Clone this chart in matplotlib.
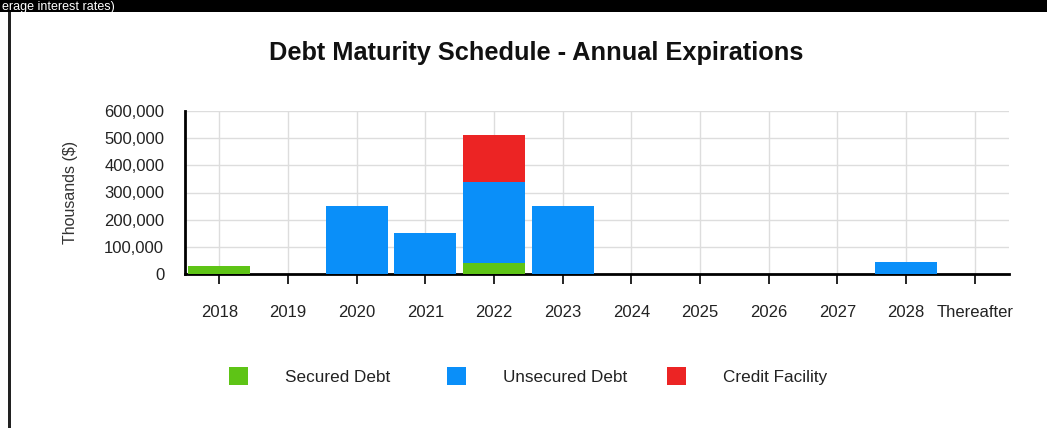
import numpy as np
import matplotlib.pyplot as plt
from matplotlib.patches import Rectangle

plt.rcParams['font.family'] = ['Liberation Sans', 'DejaVu Sans']

# Maturity amounts, thousands of dollars
categories = ['2018', '2019', '2020', '2021', '2022', '2023', '2024', '2025',
              '2026', '2027', '2028', 'Thereafter']
secured = [30000, 0, 0, 0, 40000, 0, 0, 0, 0, 0, 0, 0]
unsecured = [0, 0, 250000, 150000, 300000, 250000, 0, 0, 0, 0, 45000, 0]
credit = [0, 0, 0, 0, 170000, 0, 0, 0, 0, 0, 0, 0]
yticks = [0, 100000, 200000, 300000, 400000, 500000, 600000]

green = '#5ec416'
blue = '#0a8ff9'
red = '#ec2424'

fig = plt.figure(figsize=(10.47, 4.28), dpi=100)
fig.patch.set_facecolor('white')

# black strip on top with cut-off caption, and the dark left frame line
fig.patches.append(Rectangle((0, 1 - 12 / 428), 1, 12 / 428, transform=fig.transFigure,
                             facecolor='black', edgecolor='none', zorder=0))
fig.patches.append(Rectangle((8 / 1047, 0), 2.5 / 1047, 1 - 12 / 428, transform=fig.transFigure,
                             facecolor='#222222', edgecolor='none', zorder=0))
fig.text(2 / 1047, 1 - 1 / 428, 'erage interest rates)', color='white', fontsize=9,
         va='top', ha='left')

ax = fig.add_axes([185 / 1047, 1 - 274 / 428, 824 / 1047, 163 / 428])
x = np.arange(len(categories))
w = 0.9
sec = np.array(secured)
uns = np.array(unsecured)
cre = np.array(credit)
b1 = ax.bar(x, sec, w, color=green, zorder=3, label='Secured Debt')
b2 = ax.bar(x, uns, w, bottom=sec, color=blue, zorder=3, label='Unsecured Debt')
b3 = ax.bar(x, cre, w, bottom=sec + uns, color=red, zorder=3, label='Credit Facility')

ax.set_xlim(-0.5, len(categories) - 0.5)
ax.set_ylim(0, 600000)
ax.set_xticks(x)
ax.set_xticklabels(categories, fontsize=12, color='#222222')
ax.set_yticks(yticks)
ax.set_yticklabels([f'{v:,}' for v in yticks], fontsize=12, color='#222222')
ax.tick_params(axis='x', length=7, width=1.2, pad=15, direction='out')
ax.tick_params(axis='y', length=0, pad=15)
ax.grid(True, color='#dddddd', linewidth=1, zorder=0)
for s in ['top', 'right']:
    ax.spines[s].set_visible(False)
ax.spines['left'].set_linewidth(2)
ax.spines['bottom'].set_linewidth(2)
ax.set_ylabel('Thousands ($)', fontsize=11.5, color='#333333', labelpad=19)

fig.text(536 / 1047, 1 - 53 / 428, 'Debt Maturity Schedule - Annual Expirations',
         fontsize=18.3, fontweight='bold', ha='center', va='center', color='#111111')

# legend entries sit in fixed-width slots
for bars, lx in zip([b1, b2, b3], [229, 447, 667]):
    fig.legend([bars], [bars.get_label()], loc='center left',
               bbox_to_anchor=(lx / 1047, 1 - 376 / 428), borderpad=0, borderaxespad=0,
               frameon=False, fontsize=12.3, handlelength=1.1, handleheight=1.3,
               handletextpad=2.2, labelcolor='#222222')

fig.savefig('out.png', dpi=100)
